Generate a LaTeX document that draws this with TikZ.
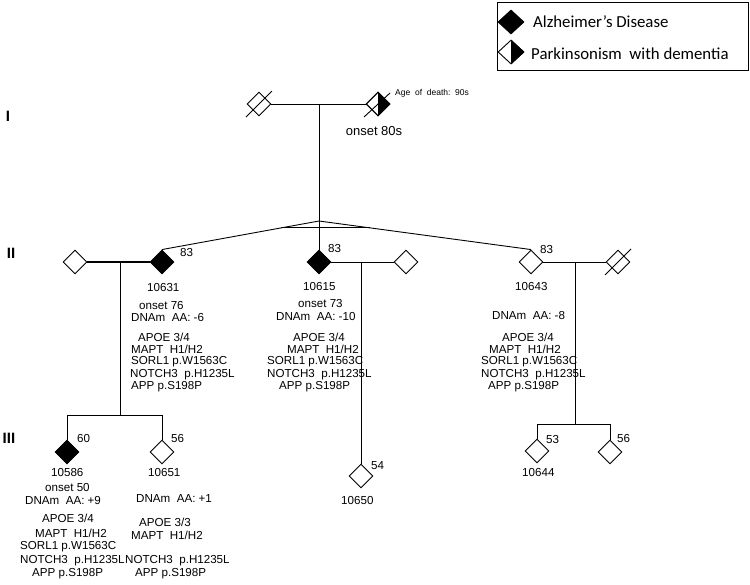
\documentclass[tikz,border=0pt]{standalone}
\usepackage{fontspec}
\setmainfont{Liberation Sans}
\newfontfamily\legfont{Carlito}
\usetikzlibrary{shapes.geometric,calc}
\begin{document}
\begin{tikzpicture}[x=1pt,y=-1pt,
  dia/.style={draw,shape=diamond,minimum width=24pt,minimum height=24pt,inner sep=0pt,line width=0.9pt},
  aff/.style={dia,fill=black},
  ln/.style={line width=0.9pt},
  lab/.style={font=\fontsize{11.6}{13}\selectfont,inner sep=0pt,anchor=west},
  gen/.style={font=\fontsize{15}{17}\selectfont\bfseries,inner sep=0pt},
  leg/.style={font=\legfont\fontsize{16.8}{18}\selectfont,inner sep=0pt,anchor=west}]
\useasboundingbox (0,0) rectangle (750,584);

% legend
\draw[line width=1pt] (497,2) rectangle (748,70);
\node[aff,minimum width=26pt] (lg1) at (511,22) {};
\node[dia,minimum width=26pt] (lg2) at (511,52) {};
\fill (lg2.north) -- (lg2.east) -- (lg2.south) -- cycle;
\node[leg] (lt1) at (533,22) {Alzheimer’s Disease};
\node[leg] (lt2) at (531,54) {Parkinsonism\ \ with dementia};

% generation labels
\node[gen] (gI) at (8,116) {I};
\node[gen] (gII) at (11,253) {II};
\node[gen] (gIII) at (9,438) {III};

% generation I
\node[dia] (i1) at (259,104) {};
\node[dia] (i2) at (378,104) {};
\fill (i2.north) -- (i2.east) -- (i2.south) -- cycle;
\node[dia] at (i2) {};
\draw[ln] ($(i1.center)+(-13,13)$) -- ($(i1.center)+(13,-13)$);
\draw[ln] ($(i2.center)+(-14,13)$) -- ($(i2.center)+(12,-11)$);
\draw[ln] (i1.east) -- (i2.west);
\coordinate (m1) at (319,104);
\node[font=\fontsize{8.5}{10}\selectfont,inner sep=0pt,anchor=west] (aod) at (395,93) {Age\ \ of\ \ death:\ \ 90s};
\node[font=\fontsize{13}{15}\selectfont,inner sep=0pt] (on80) at (374,131) {onset 80s};

% generation II
\node[dia] (s1) at (75,262) {};
\node[aff] (t1) at (162,262) {};
\node[aff] (t2) at (319,262) {};
\node[dia] (s2) at (406,262) {};
\node[dia] (t3) at (531,262) {};
\node[dia] (s3) at (618,262) {};
\draw[ln] ($(s3.center)+(-13,13)$) -- ($(s3.center)+(13,-13)$);

\coordinate (apex) at (319,221);
\draw[ln] (m1) -- (t2.north);
\draw[ln] (apex) -- (t1.north);
\draw[ln] (apex) -- (t3.north);
\draw[ln] ($(apex)!0.24!(t1.north)$) -- ($(apex)!0.24!(t3.north)$);

\draw[line width=1.8pt] (s1.east) -- (t1.west);
\draw[ln] (t2.east) -- (s2.west);
\draw[ln] (t3.east) -- (s3.west);

% ages gen II
\node[lab] (a1) at (180,253) {83};
\node[lab] (a2) at (328,249) {83};
\node[lab] (a3) at (540,250) {83};

% 10631 block
\node[lab] (b1) at (147,288) {10631};
\node[lab] (b2) at (139,306) {onset 76};
\node[lab] (b3) at (131,318) {DNAm\ \ AA: -6};
\node[lab] (b4) at (138,337) {APOE 3/4};
\node[lab] (b5) at (131,349) {MAPT\ \ H1/H2};
\node[lab] (b6) at (131,362) {SORL1 p.W1563C};
\node[lab] (b7) at (130,375) {NOTCH3\ \ p.H1235L};
\node[lab] (b8) at (131,387) {APP p.S198P};

% 10615 block
\node[lab] (c1) at (303,287) {10615};
\node[lab] (c2) at (298,304) {onset 73};
\node[lab] (c3) at (276,317) {DNAm\ \ AA: -10};
\node[lab] (c4) at (293,337) {APOE 3/4};
\node[lab] (c5) at (287,349) {MAPT\ \ H1/H2};
\node[lab] (c6) at (267,362) {SORL1 p.W1563C};
\node[lab] (c7) at (267,375) {NOTCH3\ \ p.H1235L};
\node[lab] (c8) at (279,387) {APP p.S198P};

% 10643 block
\node[lab] (d1) at (515,287) {10643};
\node[lab] (d3) at (492,316) {DNAm\ \ AA: -8};
\node[lab] (d4) at (502,337) {APOE 3/4};
\node[lab] (d5) at (489,349) {MAPT\ \ H1/H2};
\node[lab] (d6) at (481,362) {SORL1 p.W1563C};
\node[lab] (d7) at (481,375) {NOTCH3\ \ p.H1235L};
\node[lab] (d8) at (488,387) {APP p.S198P};

% generation III
\node[aff] (k1) at (67,452) {};
\node[dia] (k2) at (162,452) {};
\node[dia] (k3) at (361,476) {};
\node[dia] (k4) at (537,451) {};
\node[dia] (k5) at (610,452) {};

\coordinate (d1a) at (120,262);
\coordinate (d1b) at (120,415);
\draw[ln] (d1a) -- (d1b);
\draw[ln] (k1.north) -- (k1.north |- d1b) -- (k2.north |- d1b) -- (k2.north);
\coordinate (d2a) at (361,262);
\draw[ln] (d2a) -- (k3.north);
\coordinate (d3a) at (575,262);
\coordinate (d3b) at (575,424);
\draw[ln] (d3a) -- (d3b);
\draw[ln] (k4.north) -- (k4.north |- d3b) -- (k5.north |- d3b) -- (k5.north);

\node[lab] (e1) at (77,438) {60};
\node[lab] (e2) at (171,439) {56};
\node[lab] (e3) at (371,466) {54};
\node[lab] (e4) at (546,440) {53};
\node[lab] (e5) at (617,438) {56};

% 10586 block
\node[lab] (f1) at (51,473) {10586};
\node[lab] (f2) at (45,488) {onset 50};
\node[lab] (f3) at (25,500) {DNAm\ \ AA: +9};
\node[lab] (f4) at (42,518) {APOE 3/4};
\node[lab] (f5) at (35,533) {MAPT\ \ H1/H2};
\node[lab] (f6) at (20,547) {SORL1 p.W1563C};
\node[lab] (f7) at (20,561) {NOTCH3\ \ p.H1235L};
\node[lab] (f8) at (32,574) {APP p.S198P};

% 10651 block
\node[lab] (h1) at (148,473) {10651};
\node[lab] (h3) at (136,499) {DNAm\ \ AA: +1};
\node[lab] (h4) at (139,522) {APOE 3/3};
\node[lab] (h5) at (131,535) {MAPT\ \ H1/H2};
\node[lab] (h7) at (125,561) {NOTCH3\ \ p.H1235L};
\node[lab] (h8) at (135,574) {APP p.S198P};

\node[lab] (j1) at (341,500) {10650};
\node[lab] (j2) at (522,473) {10644};
\end{tikzpicture}
\end{document}
